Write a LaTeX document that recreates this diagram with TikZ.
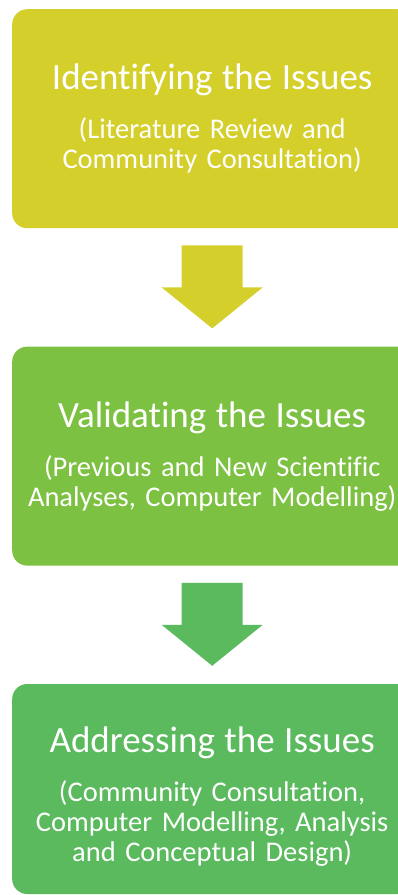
\documentclass[tikz,border=0pt]{standalone}
\usepackage{fontspec}
\setmainfont{Carlito}[Ligatures=NoCommon]
\usepackage{tikz}
\usetikzlibrary{positioning}

\definecolor{stepA}{HTML}{D4CF2A}
\definecolor{stepB}{HTML}{7DC142}
\definecolor{stepC}{HTML}{5BB95E}

\newcommand{\steptitle}[1]{{\fontsize{37}{44}\selectfont #1}\\[19pt]}

\tikzset{
  stage/.style={rectangle, rounded corners=15pt, text=white, align=center,
    minimum width=400pt, text width=390pt, inner sep=0pt,
    font=\fontsize{28.5}{30}\selectfont},
  % block arrow hanging below a stage
  downarrow/.pic={
    \fill[pic actions] (-30.5,0) -- (30.5,0) -- (30.5,-42) -- (50.5,-42)
      -- (0,-83) -- (-50.5,-42) -- (-30.5,-42) -- cycle;
  }
}

\begin{document}
\begin{tikzpicture}[x=1pt, y=1pt]
  \useasboundingbox (0,0) rectangle (398,-895);
  \node[stage, fill=stepA, minimum height=219pt, anchor=north west] (identify) at (12,-9)
    {\steptitle{Identifying the Issues}(Literature Review and\\Community Consultation)};
  \node[stage, fill=stepB, minimum height=219pt, below=118pt of identify] (validate)
    {\steptitle{Validating the Issues}(Previous and New Scientific\\Analyses, Computer Modelling)};
  % last box is shorter, the strut keeps its text a bit lower
  \node[stage, fill=stepC, minimum height=210pt, below=118pt of validate] (address)
    {\steptitle{\rule{0pt}{40pt}Addressing the Issues}(Community Consultation,\\Computer Modelling, Analysis\\and Conceptual Design)};
  \pic[fill=stepA] at ([yshift=-17pt]identify.south) {downarrow};
  \pic[fill=stepC] at ([yshift=-17pt]validate.south) {downarrow};
\end{tikzpicture}
\end{document}
